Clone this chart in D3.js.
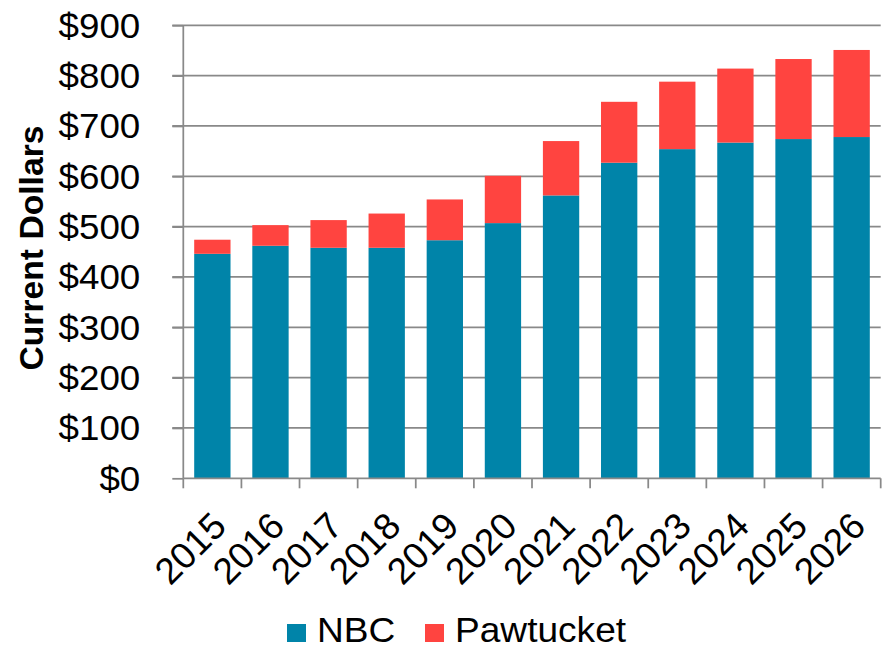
<!DOCTYPE html>
<html>
<head>
<meta charset="utf-8">
<script src="https://cdn.jsdelivr.net/npm/d3@7"></script>
<style>
  html, body { margin: 0; padding: 0; background: #fff; }
  svg text { font-family: "Liberation Sans", Arial, sans-serif; fill: #000; }
</style>
</head>
<body>
<svg id="chart" width="883" height="650"></svg>
<script>
// Annual cost per account, split by service area
const years = ["2015", "2016", "2017", "2018", "2019", "2020", "2021", "2022", "2023", "2024", "2025", "2026"];
const nbc = [446, 462, 458, 458, 473, 507, 562, 627, 654, 667, 674, 678];
const pawtucket = [28, 41, 55, 68, 81, 94, 108, 121, 134, 147, 159, 173];
const yTicks = [0, 100, 200, 300, 400, 500, 600, 700, 800, 900];
const seriesNames = ["NBC", "Pawtucket"];
const seriesColors = ["#0084A9", "#FF4440"];

const svg = d3.select("#chart");
const margin = { left: 183.3, right: 2.3, top: 25.3, bottom: 171.7 };
const W = 883, H = 650;
const axisColor = "#898989";

const x = d3.scaleBand()
  .domain(years)
  .range([margin.left, W - margin.right])
  .paddingInner(0.375)
  .paddingOuter(0.1875);

const y = d3.scaleLinear()
  .domain([0, 900])
  .range([H - margin.bottom, margin.top]);

const rows = years.map((yr, i) => ({ year: yr, NBC: nbc[i], Pawtucket: pawtucket[i] }));
const stacked = d3.stack().keys(seriesNames)(rows);

// gridlines
svg.append("g")
  .selectAll("line")
  .data(yTicks.filter(d => d > 0))
  .join("line")
  .attr("x1", margin.left - 11)
  .attr("x2", W - margin.right)
  .attr("y1", d => y(d))
  .attr("y2", d => y(d))
  .attr("stroke", axisColor)
  .attr("stroke-width", 1.75);

// stacked bars
svg.append("g")
  .selectAll("g")
  .data(stacked)
  .join("g")
  .attr("fill", (d, i) => seriesColors[i])
  .selectAll("rect")
  .data(d => d)
  .join("rect")
  .attr("x", d => x(d.data.year))
  .attr("width", x.bandwidth())
  .attr("y", d => y(d[1]))
  .attr("height", d => y(d[0]) - y(d[1]));

// y axis
const yAxis = svg.append("g")
  .attr("transform", `translate(${margin.left},0)`)
  .call(d3.axisLeft(y).tickValues(yTicks).tickSize(11).tickPadding(0).tickFormat(d => "$" + d));
yAxis.selectAll("path, line").attr("stroke", axisColor).attr("stroke-width", 1.75);
yAxis.select(".domain").attr("d", `M0,${y(0)}V${y(900)}`);
yAxis.selectAll("text")
  .attr("x", null).attr("dy", null)
  .attr("font-size", 35)
  .attr("text-anchor", "end")
  .attr("transform", "translate(-43,12) scale(1.05,1)");

// x axis with ticks at category boundaries
const xAxisG = svg.append("g").attr("transform", `translate(0,${y(0)})`);
xAxisG.append("line")
  .attr("x1", margin.left).attr("x2", W - margin.right)
  .attr("stroke", axisColor).attr("stroke-width", 1.75);
const bounds = d3.range(years.length + 1).map(i => margin.left + i * x.step());
xAxisG.selectAll("line.tick")
  .data(bounds)
  .join("line")
  .attr("class", "tick")
  .attr("x1", d => d).attr("x2", d => d)
  .attr("y1", 0).attr("y2", 10)
  .attr("stroke", axisColor).attr("stroke-width", 1.75);
xAxisG.selectAll("text")
  .data(years)
  .join("text")
  .attr("font-size", 37)
  .attr("text-anchor", "end")
  .attr("transform", d => `translate(${x(d) + x.bandwidth() / 2 + 16},50) rotate(-45)`)
  .text(d => d);

// y axis title
svg.append("text")
  .attr("font-size", 33)
  .attr("font-weight", "bold")
  .attr("text-anchor", "middle")
  .attr("transform", "translate(43,248) rotate(-90) scale(1.02,1)")
  .text("Current Dollars");

// legend
const legendItems = [
  { name: seriesNames[0], color: seriesColors[0], x: 287 },
  { name: seriesNames[1], color: seriesColors[1], x: 425 }
];
const lg = svg.append("g");
lg.selectAll("rect")
  .data(legendItems)
  .join("rect")
  .attr("x", d => d.x).attr("y", 624)
  .attr("width", 19).attr("height", 18)
  .attr("fill", d => d.color);
lg.selectAll("text")
  .data(legendItems)
  .join("text")
  .attr("font-size", 35)
  .attr("transform", d => `translate(${d.x + 30},642) scale(1.06,1)`)
  .text(d => d.name);
</script>
</body>
</html>
